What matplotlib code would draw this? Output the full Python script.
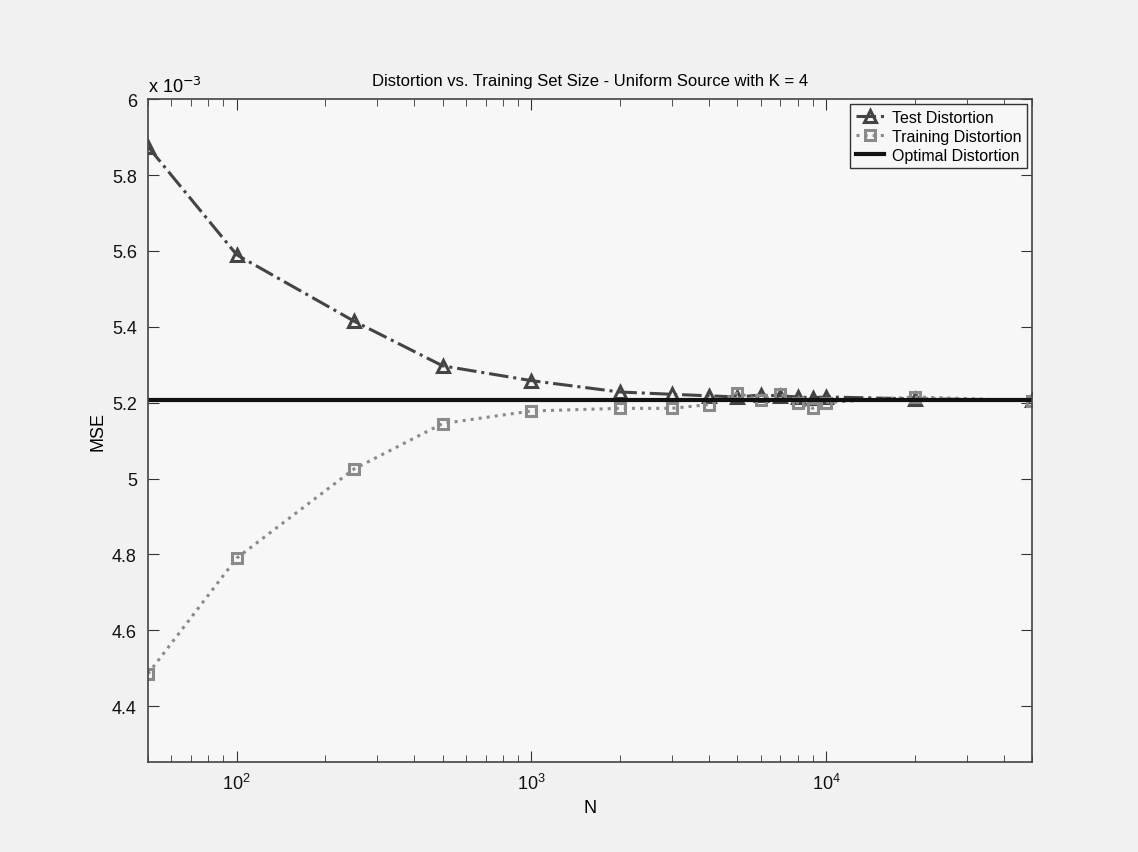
import matplotlib.pyplot as plt
from matplotlib.ticker import LogLocator, NullFormatter

plt.rcParams['font.family'] = ['Liberation Sans', 'DejaVu Sans']

# training set sizes
N = [50, 100, 250, 500, 1000, 2000, 3000, 4000, 5000, 6000, 7000, 8000, 9000, 10000, 20000, 50000]
# MSE values, in units of 1e-3
test_mse = [5.875, 5.590, 5.415, 5.297, 5.258, 5.228, 5.222, 5.218, 5.215, 5.220,
            5.218, 5.215, 5.213, 5.215, 5.210, 5.207]
train_mse = [4.485, 4.790, 5.025, 5.145, 5.178, 5.185, 5.185, 5.195, 5.225, 5.207,
             5.222, 5.200, 5.185, 5.200, 5.215, 5.205]
optimal_mse = 5.208

fig = plt.figure(figsize=(11.38, 8.53), dpi=100, facecolor='#f1f1f1')
ax = fig.add_axes([0.13, 0.1055, 0.777, 0.777], facecolor='#f7f7f7')

ax.plot(N, test_mse, color='#444444', linestyle='-.', linewidth=2.2, marker='^',
        markersize=8, markerfacecolor='none', markeredgewidth=2.2, label='Test Distortion')
ax.plot(N, train_mse, color='#8a8a8a', linestyle=':', linewidth=2.2, marker='s',
        markersize=7, markerfacecolor='none', markeredgewidth=2.2, label='Training Distortion')
ax.axhline(optimal_mse, color='#111111', linewidth=3, label='Optimal Distortion')

ax.set_xscale('log')
ax.set_xlim(50, 50000)
ax.set_ylim(4.2525, 6.0)
ax.set_yticks([4.4, 4.6, 4.8, 5.0, 5.2, 5.4, 5.6, 5.8, 6.0])
ax.set_yticklabels(['4.4', '4.6', '4.8', '5', '5.2', '5.4', '5.6', '5.8', '6'])
ax.xaxis.set_minor_locator(LogLocator(base=10, subs=range(2, 10), numticks=20))
ax.xaxis.set_minor_formatter(NullFormatter())

ax.tick_params(which='both', direction='in', top=True, right=True, colors='#333333',
               labelsize=13, labelcolor='#111111')
ax.tick_params(which='major', length=8, pad=8)
ax.tick_params(which='minor', length=5)
for s in ax.spines.values():
    s.set_color('#444444')
    s.set_linewidth(1.2)

ax.set_xlabel('N', fontsize=13, labelpad=4)
ax.set_ylabel('MSE', fontsize=13, labelpad=4)
ax.set_title('Distortion vs. Training Set Size - Uniform Source with K = 4', fontsize=12, pad=10)
ax.text(0.0, 1.005, r'x 10$^{-3}$', transform=ax.transAxes, fontsize=13, va='bottom', ha='left')

leg = ax.legend(loc='upper right', fontsize=11.5, frameon=True, fancybox=False,
                borderaxespad=0.3, handlelength=1.8, handletextpad=0.5,
                labelspacing=0.25, borderpad=0.35)
leg.get_frame().set_edgecolor('#333333')
leg.get_frame().set_facecolor('#f7f7f7')
leg.get_frame().set_alpha(1)

fig.savefig('out.png', dpi=100, facecolor=fig.get_facecolor())
